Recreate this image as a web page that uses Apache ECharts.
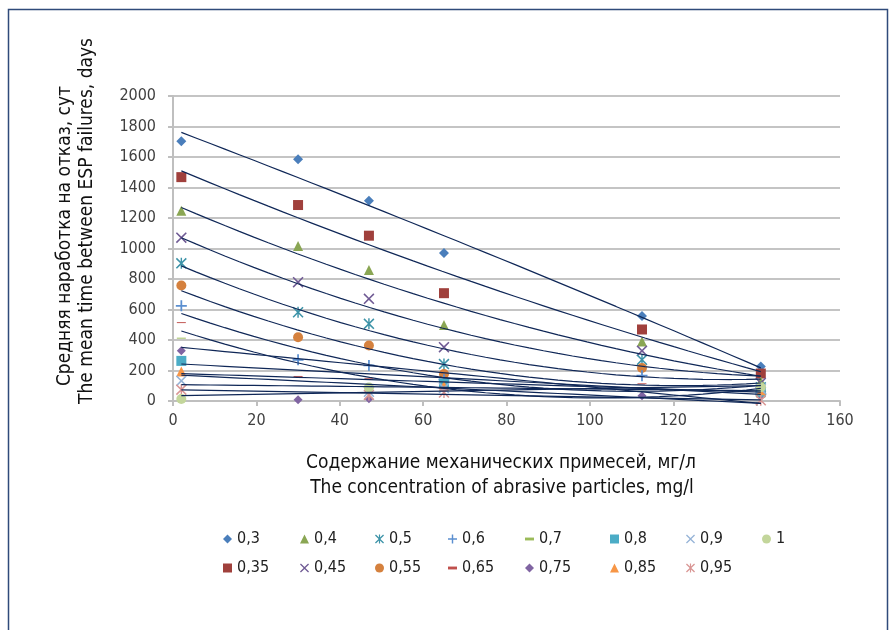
<!DOCTYPE html>
<html>
<head>
<meta charset="utf-8">
<script src="https://cdn.jsdelivr.net/npm/echarts@6/dist/echarts.min.js"></script>
<style>
  html, body { margin: 0; padding: 0; background: #fff; }
  #chart { width: 890px; height: 630px; }
</style>
</head>
<body>
<div id="chart"></div>
<script>
// содержание мех. примесей, мг/л
const xValues = [2, 30, 47, 65, 112.5, 141];
const seriesNames = ['0,3', '0,35', '0,4', '0,45', '0,5', '0,55', '0,6', '0,65',
  '0,7', '0,75', '0,8', '0,85', '0,9', '0,95', '1'];
// наработка на отказ, сут (null - нет точки)
const y030 = [1703, 1586, 1313, 971, 558, 226];
const y035 = [1468, 1285, 1084, 707, 469, 180];
const y040 = [1247, 1016, 859, 499, 390, 130];
const y045 = [1071, 779, 670, 353, 329, 118];
const y050 = [903, 582, 506, 242, 270, 90];
const y055 = [757, 418, 364, 177, 216, 60];
const y060 = [624, 270, 233, 140, 166, 45];
const y065 = [514, 161, 146, 90, 113, 30];
const y070 = [412, null, null, 70, 74, 25];
const y075 = [329, 8, 15, null, 35, 30];
const y080 = [263, null, null, 115, null, 60];
const y085 = [193, null, null, 100, null, 70];
const y090 = [132, null, 60, 85, null, 80];
const y095 = [74, null, 40, 55, null, 5];
const y100 = [13, null, 89, null, null, 90];
const allValues = [y030, y035, y040, y045, y050, y055, y060, y065,
  y070, y075, y080, y085, y090, y095, y100];
// степень полинома линии тренда для каждого ряда
const trendDegree = [2, 2, 2, 2, 2, 2, 2, 2, 1, 1, 1, 1, 1, 1, 1];

// колонки легенды (верх / низ)
const legendColumns = [['0,3', '0,35'], ['0,4', '0,45'], ['0,5', '0,55'], ['0,6', '0,65'],
  ['0,7', '0,75'], ['0,8', '0,85'], ['0,9', '0,95'], ['1']];
const legendLeft = [218, 295, 370, 443, 520, 605, 681, 757];

const FONT = "'Liberation Sans Narrow', 'DejaVu Sans Condensed', sans-serif";

const X_PATH = 'path://M1,0 L5,4 L9,0 L10,1 L6,5 L10,9 L9,10 L5,6 L1,10 L0,9 L4,5 L0,1 Z';
const STAR_PATH = X_PATH + ' M4.35,0 L5.65,0 L5.65,10 L4.35,10 Z';
const PLUS_PATH = 'path://M4.2,0 H5.8 V4.2 H10 V5.8 H5.8 V10 H4.2 V5.8 H0 V4.2 H4.2 Z';
const DASH_PATH = 'path://M0,0 H10 V3.2 H0 Z';

// маркеры как в Excel
const markers = [
  { symbol: 'diamond', size: 10, color: '#4a7ebb' },
  { symbol: 'rect', size: 10, color: '#a0403c' },
  { symbol: 'triangle', size: 10, color: '#8aa653' },
  { symbol: X_PATH, size: 11, color: '#6f5a94' },
  { symbol: STAR_PATH, size: 11, color: '#3d93a8' },
  { symbol: 'circle', size: 10, color: '#d5813e' },
  { symbol: PLUS_PATH, size: 11, color: '#5b8fd0' },
  { symbol: DASH_PATH, size: [9, 3], color: '#c0504d' },
  { symbol: DASH_PATH, size: [9, 3], color: '#9bbb59' },
  { symbol: 'diamond', size: 9, color: '#8064a2' },
  { symbol: 'rect', size: 10, color: '#4bacc6' },
  { symbol: 'triangle', size: 10, color: '#f79646' },
  { symbol: X_PATH, size: 11, color: '#95b3d7' },
  { symbol: STAR_PATH, size: 11, color: '#d99694' },
  { symbol: 'circle', size: 10, color: '#c3d69b' }
];

// полиномиальная линия тренда (МНК)
function polyFit(pts, deg) {
  const m = deg + 1;
  const A = [];
  for (let i = 0; i < m; i++) {
    A.push(new Array(m + 1).fill(0));
  }
  pts.forEach(([x, y]) => {
    for (let i = 0; i < m; i++) {
      for (let j = 0; j < m; j++) A[i][j] += Math.pow(x, i + j);
      A[i][m] += y * Math.pow(x, i);
    }
  });
  for (let c = 0; c < m; c++) {
    let p = c;
    for (let r = c + 1; r < m; r++) if (Math.abs(A[r][c]) > Math.abs(A[p][c])) p = r;
    [A[c], A[p]] = [A[p], A[c]];
    for (let r = 0; r < m; r++) {
      if (r === c) continue;
      const f = A[r][c] / A[c][c];
      for (let k = c; k <= m; k++) A[r][k] -= f * A[c][k];
    }
  }
  return A.map((row, i) => row[m] / row[i]);
}

function trendLine(pts, deg) {
  const coef = polyFit(pts, deg);
  const xs = pts.map(p => p[0]);
  const x0 = Math.min(...xs), x1 = Math.max(...xs);
  const out = [];
  for (let i = 0; i <= 40; i++) {
    const x = x0 + (x1 - x0) * i / 40;
    out.push([x, coef.reduce((s, c, k) => s + c * Math.pow(x, k), 0)]);
  }
  return out;
}

const series = [];
allValues.forEach((vals, i) => {
  const pts = [];
  vals.forEach((v, j) => { if (v !== null) pts.push([xValues[j], v]); });
  const mk = markers[i];
  series.push({
    name: seriesNames[i],
    type: 'scatter',
    data: pts,
    symbol: mk.symbol,
    symbolSize: mk.size,
    symbolKeepAspect: true,
    itemStyle: { color: mk.color, opacity: 1 },
    z: 3,
    clip: false
  });
  series.push({
    name: 'trend' + i,
    type: 'line',
    data: trendLine(pts, trendDegree[i]),
    showSymbol: false,
    symbol: 'none',
    lineStyle: { color: '#0f2757', width: 1.2 },
    z: 4,
    clip: false,
    silent: true
  });
});

const legends = legendColumns.map((names, c) => ({
  data: names,
  orient: 'vertical',
  left: legendLeft[c],
  top: 525,
  itemGap: 11,
  itemWidth: 9,
  itemHeight: 9,
  textStyle: { fontFamily: FONT, fontSize: 16, lineHeight: 18, color: '#222' }
}));

const chart = echarts.init(document.getElementById('chart'));
chart.setOption({
  animation: false,
  grid: { left: 173, right: 50, top: 96, bottom: 229 },
  xAxis: {
    type: 'value',
    min: 0,
    max: 160,
    interval: 20,
    axisLine: { lineStyle: { color: '#bfbfbf', width: 2 } },
    axisTick: { show: true, length: 5, lineStyle: { color: '#bfbfbf', width: 2 } },
    axisLabel: { margin: 12, color: '#404040', fontFamily: FONT, fontSize: 16 },
    splitLine: { show: false }
  },
  yAxis: {
    type: 'value',
    min: 0,
    max: 2000,
    interval: 200,
    axisLine: { show: true, lineStyle: { color: '#bfbfbf', width: 2 } },
    axisTick: { show: true, length: 5, lineStyle: { color: '#bfbfbf', width: 2 } },
    axisLabel: {
      margin: 17, color: '#404040', fontFamily: FONT, fontSize: 16,
      formatter: v => String(v)
    },
    splitLine: { lineStyle: { color: '#c4c4c4', width: 2 } }
  },
  legend: legends,
  graphic: [
    {
      type: 'rect', left: 6, top: 7, z: 0,
      shape: { width: 879, height: 700 },
      style: { fill: 'none', stroke: '#2f4a7a', lineWidth: 1.5 }
    },
    {
      type: 'text', x: 65, y: 236, rotation: Math.PI / 2,
      style: { text: 'Средняя наработка на отказ, сут', font: '19px ' + FONT, fill: '#111', align: 'center', verticalAlign: 'middle' }
    },
    {
      type: 'text', x: 87, y: 221, rotation: Math.PI / 2,
      style: { text: 'The mean time between ESP failures, days', font: '19px ' + FONT, fill: '#111', align: 'center', verticalAlign: 'middle' }
    },
    {
      type: 'text', x: 501, y: 463,
      style: { text: 'Содержание механических примесей, мг/л', font: '19px ' + FONT, fill: '#111', align: 'center', verticalAlign: 'middle' }
    },
    {
      type: 'text', x: 502, y: 488,
      style: { text: 'The concentration of abrasive particles, mg/l', font: '19px ' + FONT, fill: '#111', align: 'center', verticalAlign: 'middle' }
    }
  ],
  series: series
});
</script>
</body>
</html>
